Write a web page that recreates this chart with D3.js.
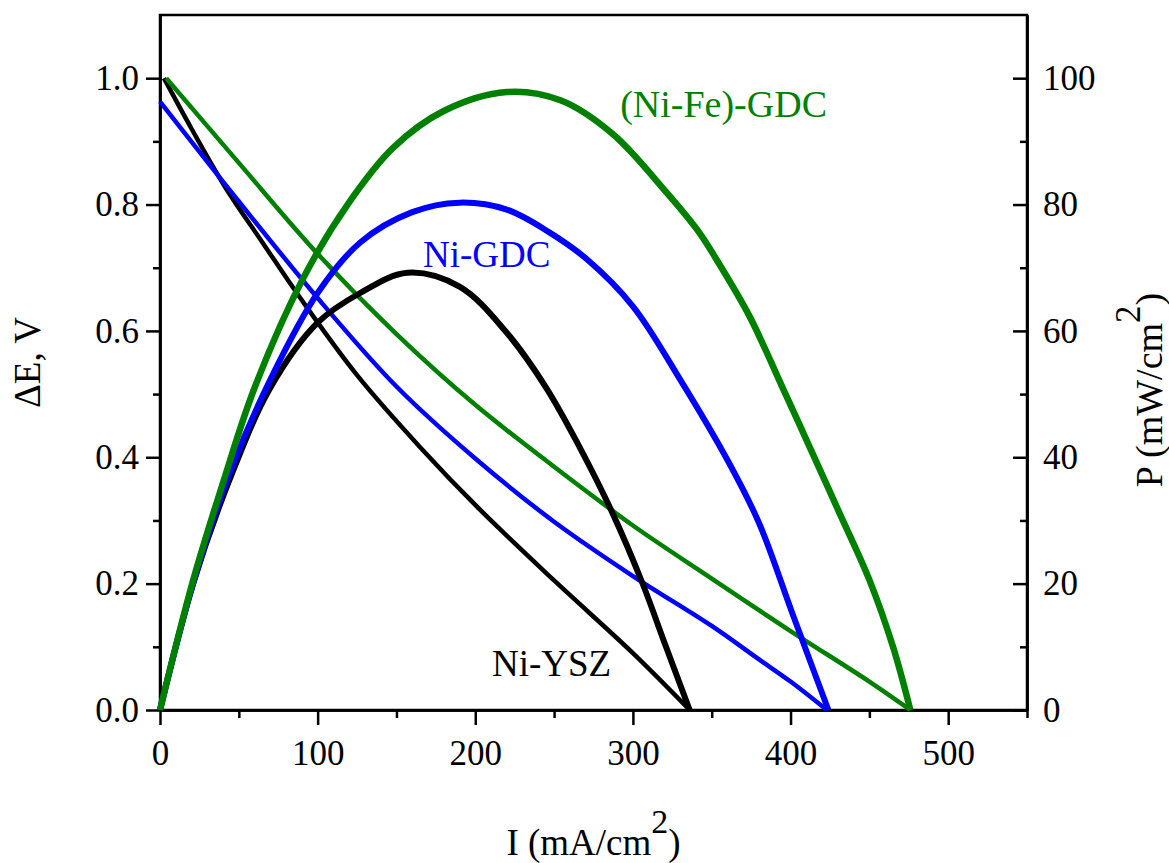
<!DOCTYPE html>
<html>
<head>
<meta charset="utf-8">
<script src="https://cdn.jsdelivr.net/npm/d3@7"></script>
<style>
    body { margin: 0; background: #fff; }
    #chart text { font-family: "Liberation Serif", "Times New Roman", serif; }
</style>
</head>
<body>
<div id="chart"></div>
<script>
// Ni-YSZ (black)
const yszVoltI = [2.5, 20, 42, 65, 89, 125, 165, 203, 250, 300, 336];
const yszVolt = [1.0, 0.92, 0.825, 0.74, 0.652, 0.53, 0.416, 0.317, 0.205, 0.09, 0.0];
const yszPowI = [0, 21, 45, 70, 100, 127, 157, 190, 220, 245, 266, 287, 306, 321, 336];
const yszPow = [0, 20, 37, 51, 61.3, 66, 69.2, 67, 59.7, 51, 41.7, 31.2, 20.1, 10, 0];

// Ni-GDC (blue)
const gdcVoltI = [0, 50, 100, 150, 200, 250, 300, 350, 380, 400, 423];
const gdcVolt = [0.963, 0.805, 0.652, 0.512, 0.398, 0.298, 0.212, 0.133, 0.08, 0.045, 0.0];
const gdcPowI = [0, 21, 45, 70, 100, 127, 160, 190, 220, 247, 271, 300, 330, 361, 380, 401, 424];
const gdcPow = [0, 20, 38, 52.3, 66, 74, 78.8, 80.3, 79.2, 75.6, 71.3, 63.9, 52.3, 39.1, 29.6, 15.4, 0];

// (Ni-Fe)-GDC (green)
const feVoltI = [4, 50, 100, 150, 200, 250, 300, 350, 400, 450, 476];
const feVolt = [1.0, 0.866, 0.722, 0.595, 0.483, 0.385, 0.292, 0.208, 0.125, 0.045, 0.0];
const fePowI = [0, 21, 40, 60, 91, 119, 148, 180, 220, 254, 287, 321, 342, 353, 374, 395, 412, 431, 450, 465, 476];
const fePow = [0, 20.5, 36, 51, 68.4, 80, 89, 94.8, 97.8, 96.5, 91.2, 82, 75.6, 71.3, 62.3, 51, 41.7, 31.2, 20.6, 10, 0];

// axis ticks
const xTicks = [0, 100, 200, 300, 400, 500];
const xMinor = [50, 150, 250, 350, 450, 550];
const vTicks = [0, 0.2, 0.4, 0.6, 0.8, 1.0];
const vMinor = [0.1, 0.3, 0.5, 0.7, 0.9];
const pTicks = [0, 20, 40, 60, 80, 100];
const pMinor = [10, 30, 50, 70, 90];

const seriesLabels = ["Ni-YSZ", "Ni-GDC", "(Ni-Fe)-GDC"];
const seriesColors = ["#000000", "#0000ff", "#008000"];

document.addEventListener('DOMContentLoaded', function() {
    renderChart();
});

function zipPoints(xs, ys) {
    return xs.map((d, i) => ({ i: d, v: ys[i] }));
}

function renderChart() {
    const W = 1169, H = 863;
    const margin = { top: 15, right: 142, bottom: 153, left: 160 };
    const width = W - margin.left - margin.right;
    const height = H - margin.top - margin.bottom;

    const svg = d3.select("#chart").append("svg")
        .attr("width", W)
        .attr("height", H);

    const g = svg.append("g")
        .attr("transform", "translate(" + margin.left + "," + margin.top + ")");

    const x = d3.scaleLinear().domain([0, 550]).range([0, width]);
    const yV = d3.scaleLinear().domain([0, 1.1]).range([height, 0]);
    const yP = d3.scaleLinear().domain([0, 110]).range([height, 0]);

    const axisStyle = sel => {
        sel.selectAll("path.domain").attr("stroke", "#000").attr("stroke-width", 2.5);
        sel.selectAll(".tick line").attr("stroke", "#000").attr("stroke-width", 2.5);
        sel.selectAll("text").attr("font-size", 35).attr("fill", "#000")
            .style("font-family", '"Liberation Serif", "Times New Roman", serif');
    };

    // frame
    g.append("rect")
        .attr("x", 0).attr("y", 0)
        .attr("width", width).attr("height", height)
        .attr("fill", "none")
        .attr("stroke", "#000")
        .attr("stroke-width", 2.5);

    // bottom axis
    g.append("g")
        .attr("transform", "translate(0," + height + ")")
        .call(d3.axisBottom(x).tickValues(xMinor).tickSize(8).tickSizeOuter(0).tickFormat(""))
        .call(axisStyle);
    g.append("g")
        .attr("transform", "translate(0," + height + ")")
        .call(d3.axisBottom(x).tickValues(xTicks).tickSize(15).tickSizeOuter(0).tickPadding(15).tickFormat(d3.format("d")))
        .call(axisStyle);

    // left axis
    g.append("g")
        .call(d3.axisLeft(yV).tickValues(vMinor).tickSize(7).tickSizeOuter(0).tickFormat(""))
        .call(axisStyle);
    g.append("g")
        .call(d3.axisLeft(yV).tickValues(vTicks).tickSize(14).tickSizeOuter(0).tickPadding(7).tickFormat(d3.format(".1f")))
        .call(axisStyle);

    // right axis, ticks pointing inward
    g.append("g")
        .attr("transform", "translate(" + width + ",0)")
        .call(d3.axisRight(yP).tickValues(pMinor).tickSize(-7).tickSizeOuter(0).tickFormat(""))
        .call(axisStyle);
    g.append("g")
        .attr("transform", "translate(" + width + ",0)")
        .call(d3.axisRight(yP).tickValues(pTicks).tickSize(-14).tickSizeOuter(0).tickPadding(16).tickFormat(d3.format("d")))
        .call(axisStyle);

    const smooth = d3.curveCatmullRom.alpha(0.5);
    const lineV = d3.line().x(d => x(d.i)).y(d => yV(d.v)).curve(smooth);
    const lineP = d3.line().x(d => x(d.i)).y(d => yP(d.v)).curve(smooth);

    const voltSeries = [zipPoints(yszVoltI, yszVolt), zipPoints(gdcVoltI, gdcVolt), zipPoints(feVoltI, feVolt)];
    const powSeries = [zipPoints(yszPowI, yszPow), zipPoints(gdcPowI, gdcPow), zipPoints(fePowI, fePow)];

    voltSeries.forEach((data, k) => {
        g.append("path")
            .datum(data)
            .attr("fill", "none")
            .attr("stroke", seriesColors[k])
            .attr("stroke-width", 4.5)
            .attr("stroke-linejoin", "round")
            .attr("d", lineV);
    });

    powSeries.forEach((data, k) => {
        g.append("path")
            .datum(data)
            .attr("fill", "none")
            .attr("stroke", seriesColors[k])
            .attr("stroke-width", k === 2 ? 6.5 : 6)
            .attr("stroke-linejoin", "round")
            .attr("d", lineP);
    });

    // series labels
    const labelPos = [
        { x: 492, y: 676, anchor: "start" },
        { x: 423, y: 267, anchor: "start" },
        { x: 827, y: 117, anchor: "end" }
    ];
    seriesLabels.forEach((t, k) => {
        svg.append("text")
            .attr("x", labelPos[k].x)
            .attr("y", labelPos[k].y)
            .attr("text-anchor", labelPos[k].anchor)
            .attr("font-size", k === 2 ? 38 : 37)
            .attr("fill", seriesColors[k])
            .text(t);
    });

    // axis titles
    const cx = margin.left + width / 2;
    const xTitle = svg.append("text")
        .attr("x", cx)
        .attr("y", 855)
        .attr("text-anchor", "middle")
        .attr("font-size", 37);
    xTitle.append("tspan").text("I (mA/cm");
    xTitle.append("tspan").attr("dy", -22).attr("font-size", 34).text("2");
    xTitle.append("tspan").attr("dy", 22).text(")");

    svg.append("text")
        .attr("transform", "translate(40," + (margin.top + height / 2) + ") rotate(-90)")
        .attr("text-anchor", "middle")
        .attr("font-size", 37)
        .text("\u0394E, V");

    const pTitle = svg.append("text")
        .attr("transform", "translate(1162,390) rotate(-90)")
        .attr("text-anchor", "middle")
        .attr("font-size", 38);
    pTitle.append("tspan").text("P (mW/cm");
    pTitle.append("tspan").attr("dy", -22).attr("font-size", 35).text("2");
    pTitle.append("tspan").attr("dy", 22).text(")");
}
</script>
</body>
</html>
